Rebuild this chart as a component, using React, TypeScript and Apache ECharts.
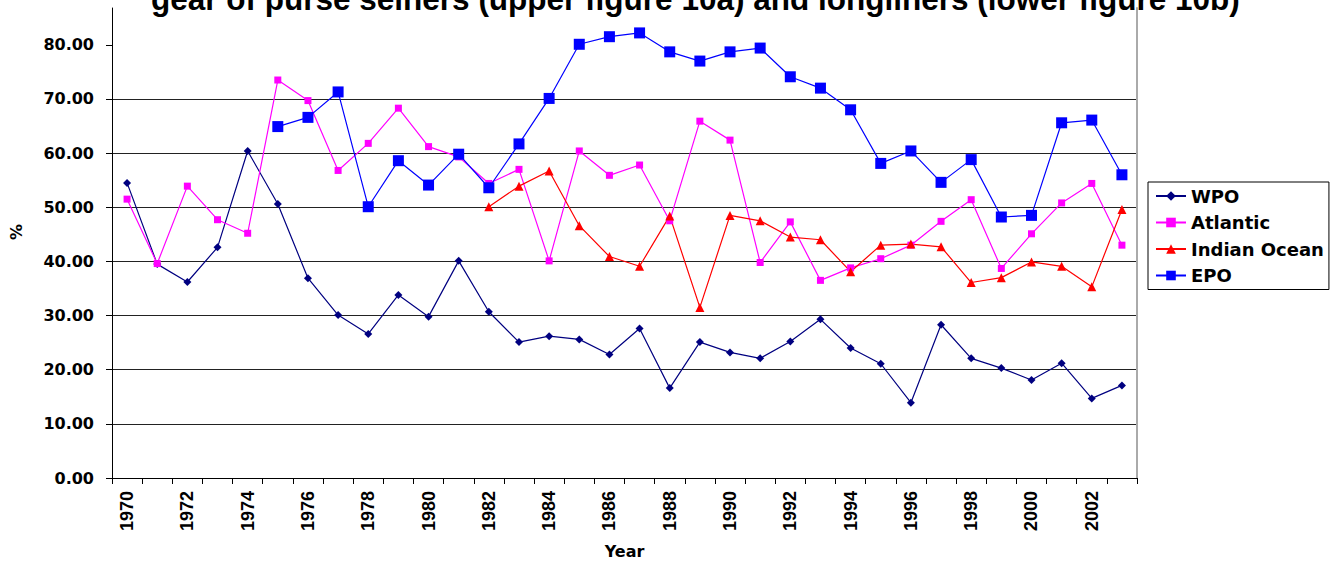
import React, { useEffect, useRef } from "react";
import * as echarts from "echarts";

const titleText = "gear of purse seiners (upper figure 10a) and longliners (lower figure 10b)";
const years = [
  "1970", "1971", "1972", "1973", "1974", "1975", "1976", "1977", "1978", "1979",
  "1980", "1981", "1982", "1983", "1984", "1985", "1986", "1987", "1988", "1989",
  "1990", "1991", "1992", "1993", "1994", "1995", "1996", "1997", "1998", "1999",
  "2000", "2001", "2002", "2003",
];
const yTicks = [0, 10, 20, 30, 40, 50, 60, 70, 80];

const wpo = [
  54.5, 39.5, 36.2, 42.6, 60.4, 50.6, 36.9, 30.1, 26.6, 33.8,
  29.8, 40.1, 30.7, 25.1, 26.2, 25.6, 22.8, 27.6, 16.6, 25.1,
  23.2, 22.1, 25.2, 29.3, 24.0, 21.1, 13.9, 28.3, 22.1, 20.3,
  18.1, 21.2, 14.7, 17.1,
];
const atlantic = [
  51.5, 39.6, 53.9, 47.7, 45.2, 73.5, 69.7, 56.8, 61.8, 68.3,
  61.2, 59.3, 54.4, 57.0, 40.1, 60.4, 55.9, 57.8, 47.5, 65.9,
  62.4, 39.8, 47.3, 36.5, 38.8, 40.5, 43.0, 47.4, 51.4, 38.7,
  45.1, 50.8, 54.4, 43.0,
];
const indianOcean = [
  null, null, null, null, null, null, null, null, null, null,
  null, null, 50.1, 53.9, 56.7, 46.6, 40.9, 39.1, 48.4, 31.5,
  48.5, 47.5, 44.5, 44.0, 38.1, 43.0, 43.2, 42.7, 36.1, 37.0,
  39.9, 39.1, 35.3, 49.6,
];
const epo = [
  null, null, null, null, null, 64.9, 66.6, 71.3, 50.1, 58.6,
  54.1, 59.8, 53.6, 61.7, 70.1, 80.1, 81.5, 82.2, 78.7, 77.0,
  78.7, 79.4, 74.1, 72.0, 68.0, 58.1, 60.4, 54.6, 58.8, 48.2,
  48.5, 65.6, 66.1, 56.0,
];

const Y_MAX = 86.8;

export default function App() {
  const ref = useRef<HTMLDivElement>(null);
  useEffect(() => {
    if (!ref.current) return;
    const chart = echarts.init(ref.current, null, { renderer: "svg" });
    const bold = (size: number, family: string) => ({
      fontFamily: family,
      fontWeight: "bold" as const,
      fontSize: size,
      color: "#000",
    });
    chart.setOption({
      animation: false,
      backgroundColor: "#fff",
      title: {
        text: titleText,
        left: 151,
        top: -17,
        padding: 0,
        textStyle: bold(31.5, "Liberation Sans"),
      },
      legend: {
        orient: "vertical",
        left: 1148,
        top: 182,
        padding: [5, 5, 5, 7],
        borderColor: "#000",
        borderWidth: 1,
        itemWidth: 30,
        itemHeight: 12,
        itemGap: 8.5,
        textStyle: bold(18, "DejaVu Sans"),
        data: ["WPO", "Atlantic", "Indian Ocean", "EPO"],
      },
      grid: { left: 111, right: 198, top: 8, bottom: 87 },
      xAxis: {
        type: "category",
        data: years,
        boundaryGap: true,
        name: "Year",
        nameLocation: "middle",
        nameGap: 65,
        nameTextStyle: bold(16, "DejaVu Sans"),
        axisLine: { lineStyle: { color: "#000", width: 1 } },
        axisTick: { show: true, interval: 0, length: 6, lineStyle: { color: "#000" } },
        axisLabel: {
          interval: 1,
          rotate: 90,
          margin: 13,
          ...bold(18, "Liberation Sans"),
        },
        splitLine: { show: false },
      },
      yAxis: [
        {
          type: "value",
          min: 0,
          max: Y_MAX,
          interval: 10,
          name: "%",
          nameLocation: "middle",
          nameGap: 88,
          nameRotate: 90,
          nameTextStyle: { ...bold(16, "DejaVu Sans"), padding: [0, 0, 0, 22] },
          axisLine: { show: true, lineStyle: { color: "#000", width: 1 } },
          axisTick: { show: true, length: 6, lineStyle: { color: "#000" }, customValues: yTicks },
          axisLabel: {
            margin: 18,
            customValues: yTicks,
            formatter: (v: number) => v.toFixed(2),
            ...bold(16, "DejaVu Sans"),
          },
          splitLine: { show: true, showMaxLine: false, lineStyle: { color: "#222", width: 1 } },
        },
        {
          type: "value",
          min: 0,
          max: Y_MAX,
          position: "right",
          axisLine: { show: true, lineStyle: { color: "#aaa", width: 2 } },
          axisTick: { show: false },
          axisLabel: { show: false },
          splitLine: { show: false },
        },
      ],
      series: [
        {
          name: "WPO",
          type: "line",
          data: wpo,
          symbol: "diamond",
          symbolSize: 8,
          color: "#000080",
          lineStyle: { width: 1.2, color: "#000080" },
          itemStyle: { color: "#000080" },
        },
        {
          name: "Atlantic",
          type: "line",
          data: atlantic,
          symbol: "rect",
          symbolSize: 7,
          color: "#ff00ff",
          lineStyle: { width: 1.2, color: "#ff00ff" },
          itemStyle: { color: "#ff00ff" },
        },
        {
          name: "Indian Ocean",
          type: "line",
          data: indianOcean,
          symbol: "triangle",
          symbolSize: 9,
          color: "#ff0000",
          lineStyle: { width: 1.2, color: "#ff0000" },
          itemStyle: { color: "#ff0000" },
        },
        {
          name: "EPO",
          type: "line",
          data: epo,
          symbol: "rect",
          symbolSize: 11,
          color: "#0000ff",
          lineStyle: { width: 1.2, color: "#0000ff" },
          itemStyle: { color: "#0000ff" },
        },
      ],
    });
    return () => chart.dispose();
  }, []);
  return <div ref={ref} style={{ width: 1335, height: 565, position: "absolute", left: 0, top: 0 }} />;
}
